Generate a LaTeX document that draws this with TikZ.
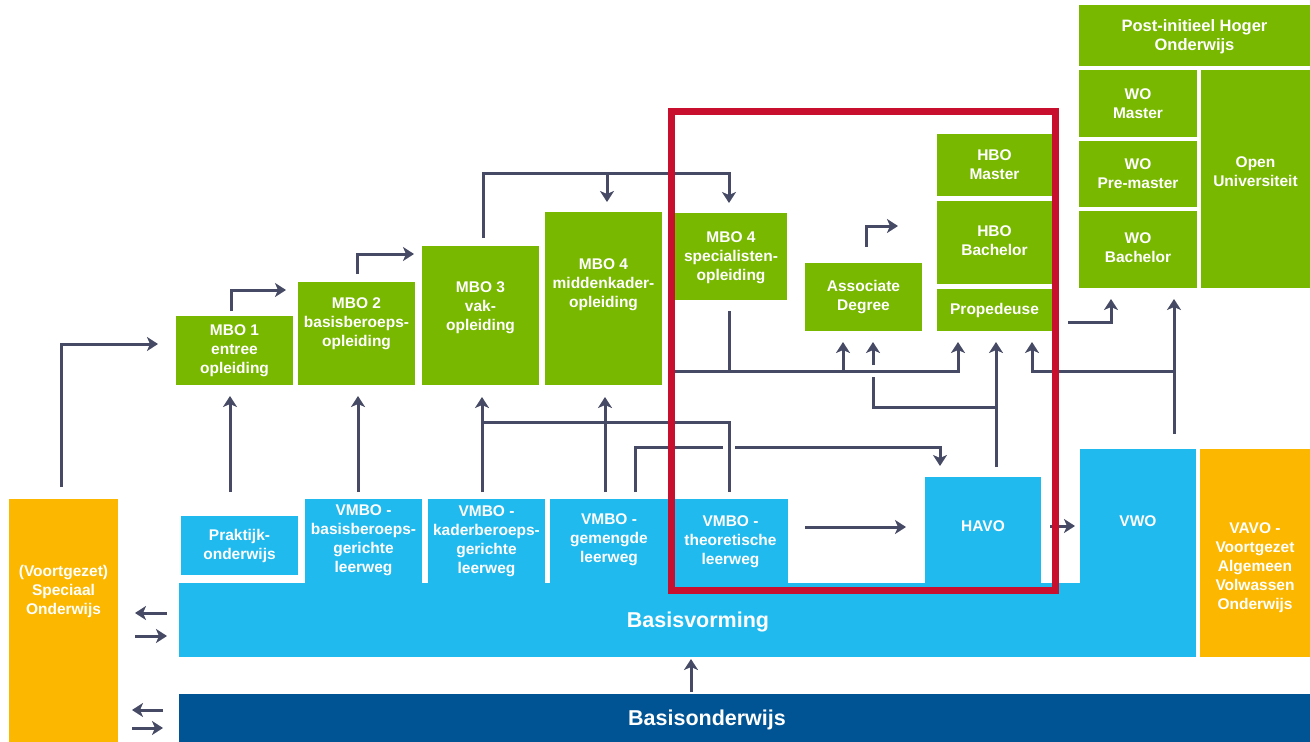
\documentclass[tikz,border=0pt]{standalone}
\usepackage{fontspec}
\setmainfont{Liberation Sans}
\usetikzlibrary{arrows.meta,calc}
\definecolor{grn}{RGB}{120,184,0}
\definecolor{lblue}{RGB}{33,186,238}
\definecolor{dblue}{RGB}{0,84,147}
\definecolor{orng}{RGB}{252,183,0}
\definecolor{arrowc}{RGB}{70,74,101}
\definecolor{redf}{RGB}{200,16,46}
\newcommand\bx[6]{\node[blk, fill=#6, anchor=north west, minimum width={(#4-#2)*1pt}, minimum height={(#5-#3)*1pt}] (#1) at (#2,#3) {};}
\newcommand\tx[4]{\node[txt] (t#1) at ($(#1.center)+(#2,#3)$) {#4};}
\begin{document}
\begin{tikzpicture}[x=1pt,y=-1pt,
  blk/.style={inner sep=0pt, outer sep=0pt, draw=none},
  txt/.style={text=white, font=\fontsize{15.5}{19}\selectfont\bfseries, align=center, inner sep=0pt},
  bigtxt/.style={txt, font=\fontsize{21.5}{24}\selectfont\bfseries},
  conn/.style={draw=arrowc, line width=3pt, line join=miter},
  arr/.style={conn, -{Stealth[length=11pt,width=14pt,inset=3pt]}}]
\useasboundingbox[fill=white] (0,0) rectangle (1310,742);
% green boxes
\bx{mbo1}{176}{316}{293}{385}{grn}
\bx{mbo2}{298}{282}{415}{385}{grn}
\bx{mbo3}{422}{246}{539}{385}{grn}
\bx{mbo4m}{545}{212}{662}{385}{grn}
\bx{mbo4s}{675}{213}{787}{300}{grn}
\bx{ad}{805}{263}{922}{331}{grn}
\bx{hbom}{937}{134}{1052}{196}{grn}
\bx{hbob}{937}{201}{1052}{284}{grn}
\bx{prop}{937}{289}{1052}{331}{grn}
\bx{post}{1079}{5}{1310}{66}{grn}
\bx{wom}{1079}{70}{1197}{137}{grn}
\bx{wop}{1079}{141}{1197}{207}{grn}
\bx{wob}{1079}{211}{1197}{288}{grn}
\bx{ou}{1201}{70}{1310}{288}{grn}
% blue / orange boxes
\bx{bv}{179}{583}{1196}{657}{lblue}
\bx{prakt}{181}{516}{298}{575}{lblue}
\bx{vb1}{305}{499}{422}{584}{lblue}
\bx{vb2}{428}{499}{545}{584}{lblue}
\bx{vb3}{550}{499}{668}{584}{lblue}
\bx{vb4}{673}{499}{788}{584}{lblue}
\bx{havo}{925}{477}{1041}{584}{lblue}
\bx{vwo}{1080}{449}{1196}{657}{lblue}
\bx{vavo}{1200}{449}{1310}{657}{orng}
\bx{spec}{9}{499}{118}{742}{orng}
\bx{bo}{179}{694}{1310}{742}{dblue}
% texts
\tx{mbo1}{0}{0}{MBO 1\\entree\\opleiding}
\tx{mbo2}{0}{-10}{MBO 2\\basisberoeps-\\opleiding}
\tx{mbo3}{0}{-7.5}{MBO 3\\vak-\\opleiding}
\tx{mbo4m}{0}{-13.5}{MBO 4\\middenkader-\\opleiding}
\tx{mbo4s}{0}{1}{MBO 4\\specialisten-\\opleiding}
\tx{ad}{0}{0.5}{Associate\\Degree}
\tx{hbom}{0}{0}{HBO\\Master}
\tx{hbob}{0}{-2}{HBO\\Bachelor}
\tx{prop}{0}{0.5}{Propedeuse}
\node[txt, font=\fontsize{16.5}{19}\selectfont\bfseries] (tpost) at ($(post.center)+(0,1)$) {Post-initieel Hoger\\Onderwijs};
\tx{wom}{0}{0}{WO\\Master}
\tx{wop}{0}{0}{WO\\Pre-master}
\tx{wob}{0}{-2}{WO\\Bachelor}
\tx{ou}{0}{-7.5}{Open\\Universiteit}
\tx{prakt}{0}{0}{Praktijk-\\onderwijs}
\tx{vb1}{0}{-1}{VMBO -\\basisberoeps-\\gerichte\\leerweg}
\tx{vb2}{0}{-0.5}{VMBO -\\kaderberoeps-\\gerichte\\leerweg}
\tx{vb3}{0}{-2}{VMBO -\\gemengde\\leerweg}
\tx{vb4}{0}{0.5}{VMBO -\\theoretische\\leerweg}
\tx{havo}{0}{-4.5}{HAVO}
\tx{vwo}{0}{-32}{VWO}
\tx{vavo}{0}{15}{VAVO -\\Voortgezet\\Algemeen\\Volwassen\\Onderwijs}
\tx{spec}{0}{-29}{(Voortgezet)\\Speciaal\\Onderwijs}
\node[bigtxt] (tbv) at ($(bv.center)+(10.5,1.5)$) {Basisvorming};
\node[bigtxt] (tbo) at ($(bo.center)+(-37.5,2)$) {Basisonderwijs};
% connector coordinates
\coordinate (a1s) at (61,487); \coordinate (a1e) at (158,344);
\coordinate (a2s) at (231,311); \coordinate (a2e) at (286,290);
\coordinate (a3s) at (357,274); \coordinate (a3e) at (414,254);
\coordinate (a4s) at (483,238); \coordinate (a4b) at (607,173); \coordinate (a4e) at (729,203);
% connectors
\draw[arr] (a1s) |- (a1e);
\draw[arr] (a2s) |- (a2e);
\draw[arr] (a3s) |- (a3e);
\draw[arr] (a4s) |- (a4e |- a4b) -- (a4e);
\draw[arr] (a4b) -- (607,202);
\draw[arr] (230,492) -- (230,396);
\draw[arr] (358,492) -- (358,396);
\draw[arr] (482,492) -- (482,397);
\draw[arr] (605,492) -- (605,397);
\draw[conn] (482,422) -- (729,422) -- (729,492);
\draw[conn] (635,492) -- (635,447) -- (723,447);
\draw[arr] (735,447) -- (940,447) -- (940,466);
\draw[conn] (729,311) -- (729,371);
\draw[arr] (671,371) -- (958,371) -- (958,342);
\draw[arr] (843,371) -- (843,342);
\draw[arr] (996,467) -- (996,342);
\draw[conn] (996,407) -- (873,407) -- (873,377);
\draw[arr] (873,365) -- (873,342);
\draw[arr] (1174,434) -- (1174,299);
\draw[arr] (1174,371) -- (1032,371) -- (1032,342);
\draw[arr] (1068,322) -- (1111,322) -- (1111,299);
\draw[arr] (866,247) -- (866,226) -- (898,226);
\draw[arr] (805,527) -- (906,527);
\draw[arr] (1050,526) -- (1075,526);
\draw[arr] (691,692) -- (691,659);
\draw[arr] (167,613) -- (135,613);
\draw[arr] (135,636) -- (167,636);
\draw[arr] (163,710) -- (132,710);
\draw[arr] (132,728) -- (163,728);
% red frame
\node[draw=redf, line width=7pt, inner sep=0pt, outer sep=0pt, minimum width=384pt, minimum height=479pt, anchor=north west] (focus) at (671,111) {};
\end{tikzpicture}
\end{document}
